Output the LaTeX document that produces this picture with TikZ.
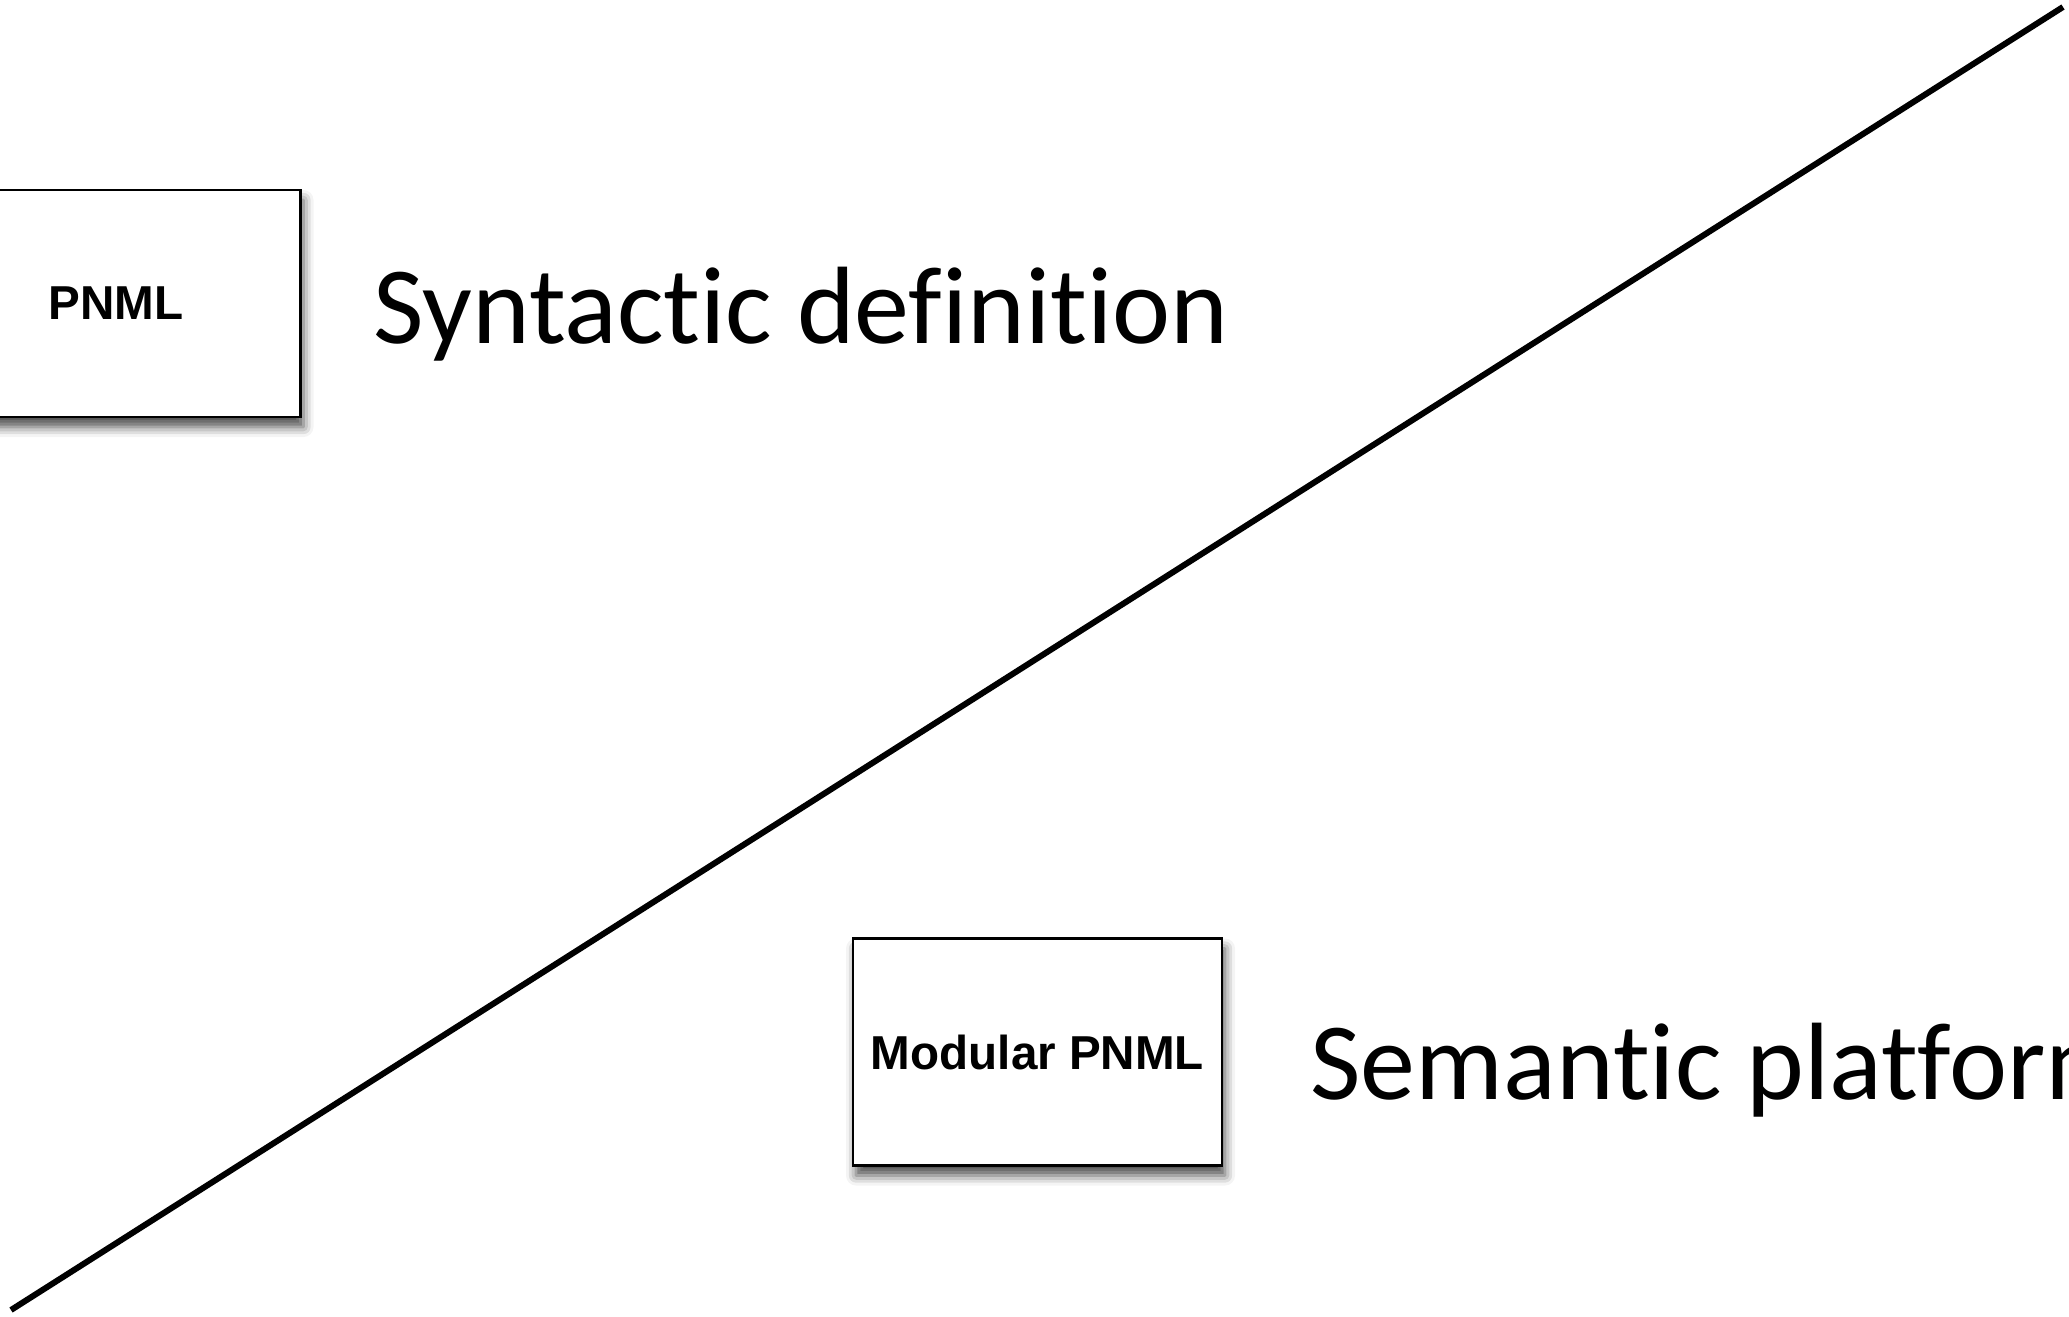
\documentclass[tikz,border=0pt]{standalone}
\usepackage{fontspec}
\setmainfont{Carlito}[Ligatures=NoCommon]
\newfontfamily\boxfont{Liberation Sans}
\usetikzlibrary{shadows.blur}
\begin{document}
\begin{tikzpicture}[x=0.5pt,y=-0.5pt,
  box/.style={draw=black, line width=1.2pt, fill=white, minimum width=184.5pt, minimum height=113.5pt, inner sep=0pt,
    font=\boxfont\bfseries\fontsize{23.8}{28}\selectfont,
    blur shadow={shadow xshift=1.5pt, shadow yshift=-5pt, shadow blur radius=5pt, shadow opacity=70}},
  big/.style={font=\fontsize{55}{66}\selectfont, inner sep=0pt, anchor=base west}]
\path[use as bounding box] (0,0) rectangle (2069,1317);
\clip (0,0) rectangle (2069,1317);
\node[box] (pnml) at (116,303.5) {PNML};
\node[box] (mod) at (1037.5,1052) {Modular PNML};
\node[big] (syn) at (373,343) {Syntactic definition};
\node[big] (sem) at (1310,1099) {Semantic platform};
\coordinate (a) at (11,1310);
\coordinate (b) at (2063,7);
\draw[line width=3pt] (a) -- (b);
\end{tikzpicture}
\end{document}
